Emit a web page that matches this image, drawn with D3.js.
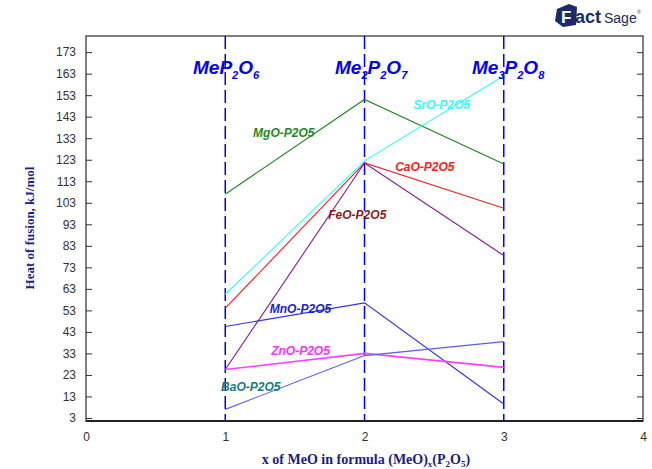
<!DOCTYPE html>
<html>
<head>
<meta charset="utf-8">
<script src="https://cdn.jsdelivr.net/npm/d3@7"></script>
<style>
  html, body { margin: 0; padding: 0; background: #fff; }
  svg { display: block; }
</style>
</head>
<body>
<svg id="chart" width="652" height="469"></svg>
<script>
// x positions of the three phosphate compositions
const xs = [1, 2, 3];

// Heat of fusion (kJ/mol) for each MeO-P2O5 system at x = 1, 2, 3
const mgo = [107, 151, 121];
const sro = [60.5, 122.5, 162];
const cao = [54, 121.5, 100.5];
const feo = [25.5, 121.5, 78.5];
const mno = [45.5, 56.5, 9.5];
const zno = [25.5, 33, 26.5];
const bao = [7, 32, 38.5];

const yTicks = [3, 13, 23, 33, 43, 53, 63, 73, 83, 93, 103, 113, 123, 133, 143, 153, 163, 173];
const xTicks = [0, 1, 2, 3, 4];

const seriesNames = ["MgO-P2O5", "SrO-P2O5", "CaO-P2O5", "FeO-P2O5", "MnO-P2O5", "ZnO-P2O5", "BaO-P2O5"];
const seriesValues = [mgo, sro, cao, feo, mno, zno, bao];
const lineColors = ["#1e8a1e", "#33ffff", "#ff2020", "#8a1a9a", "#3030f0", "#ff40ff", "#5a5aff"];
const labelColors = ["#1e8a1e", "#33ffff", "#ff2020", "#8b1a1a", "#2020e0", "#ff30ff", "#108080"];
// label anchor (x in data units, y in data units)
const labelX = [1.2, 2.35, 2.22, 1.74, 1.32, 1.33, 0.97];
const labelY = [133.5, 146.5, 118, 95.3, 52, 32.3, 15.5];

const svg = d3.select("#chart");
const L = 86, R = 643, T = 36, B = 421;

const x = d3.scaleLinear().domain([0, 4]).range([L, R]);
const y = d3.scaleLinear().domain([1.6, 180.5]).range([B, T]);

// frame
svg.append("rect")
  .attr("x", L).attr("y", T).attr("width", R - L).attr("height", B - T)
  .attr("fill", "none").attr("stroke", "#555").attr("stroke-width", 1.5);
svg.append("line")
  .attr("x1", L).attr("x2", R).attr("y1", B).attr("y2", B)
  .attr("stroke", "#222").attr("stroke-width", 2);

// left axis with inward ticks
const yAxisL = svg.append("g").attr("transform", `translate(${L},0)`)
  .call(d3.axisLeft(y).tickValues(yTicks).tickSize(-6).tickPadding(10));
yAxisL.select(".domain").remove();
yAxisL.selectAll("line").attr("stroke", "#333");
yAxisL.selectAll("text")
  .attr("font-family", "Liberation Sans, Arial, sans-serif")
  .attr("font-size", 12).attr("fill", "#333");

// right axis ticks
const yAxisR = svg.append("g").attr("transform", `translate(${R},0)`)
  .call(d3.axisRight(y).tickValues(yTicks).tickSize(-6).tickFormat(""));
yAxisR.select(".domain").remove();
yAxisR.selectAll("line").attr("stroke", "#333");

// bottom axis labels
const xAxis = svg.append("g").attr("transform", `translate(0,${B})`)
  .call(d3.axisBottom(x).tickValues(xTicks).tickSize(0).tickPadding(11).tickFormat(d3.format("d")));
xAxis.select(".domain").remove();
xAxis.selectAll("text")
  .attr("font-family", "Liberation Sans, Arial, sans-serif")
  .attr("font-size", 12).attr("fill", "#333");

// composition guide lines
svg.append("g").selectAll("line").data(xs).join("line")
  .attr("x1", d => x(d)).attr("x2", d => x(d))
  .attr("y1", T).attr("y2", B)
  .attr("stroke", "#0000ff").attr("stroke-width", 1.5)
  .attr("stroke-dasharray", "13,5");

// series lines
const line = d3.line().x((d, i) => x(xs[i])).y(d => y(d));
svg.append("g").selectAll("path").data(seriesValues).join("path")
  .attr("d", d => line(d))
  .attr("fill", "none")
  .attr("stroke", (d, i) => lineColors[i])
  .attr("stroke-width", (d, i) => i === 5 ? 1.6 : 1.1);

// series labels
svg.append("g").selectAll("text").data(seriesNames).join("text")
  .attr("x", (d, i) => x(labelX[i]))
  .attr("y", (d, i) => y(labelY[i]))
  .attr("fill", (d, i) => labelColors[i])
  .attr("font-family", "Liberation Sans, Arial, sans-serif")
  .attr("font-size", 12)
  .attr("font-weight", "bold")
  .attr("font-style", "italic")
  .text(d => d);

// composition headers: [text, subscript] pieces
const headers = [
  { x: 193, parts: [["Me", 0], ["P", 0], ["2", 1], ["O", 0], ["6", 1]] },
  { x: 335, parts: [["Me", 0], ["2", 1], ["P", 0], ["2", 1], ["O", 0], ["7", 1]] },
  { x: 472, parts: [["Me", 0], ["3", 1], ["P", 0], ["2", 1], ["O", 0], ["8", 1]] }
];
headers.forEach(h => {
  const t = svg.append("text")
    .attr("x", h.x).attr("y", 74)
    .attr("fill", "#0000ff")
    .attr("font-family", "Liberation Sans, Arial, sans-serif")
    .attr("font-weight", "bold").attr("font-style", "italic")
    .attr("font-size", 19);
  h.parts.forEach(([s, sub], i) => {
    const ts = t.append("tspan").text(s);
    if (sub) ts.attr("font-size", 11).attr("dy", 5);
    else if (i > 0 && h.parts[i - 1][1]) ts.attr("dy", -5);
  });
});

// axis titles
svg.append("text")
  .attr("transform", "translate(34,228) rotate(-90)")
  .attr("text-anchor", "middle")
  .attr("fill", "#1c1c8a")
  .attr("font-family", "Liberation Serif, Times New Roman, serif")
  .attr("font-weight", "bold").attr("font-size", 13)
  .text("Heat of fusion, kJ/mol");

const xt = svg.append("text")
  .attr("x", 366).attr("y", 464)
  .attr("text-anchor", "middle")
  .attr("fill", "#1c1c8a")
  .attr("font-family", "Liberation Serif, Times New Roman, serif")
  .attr("font-weight", "bold").attr("font-size", 14);
xt.append("tspan").text("x of MeO in formula (MeO)");
xt.append("tspan").text("x").attr("font-size", 9).attr("dy", 3);
xt.append("tspan").text("(P").attr("dy", -3);
xt.append("tspan").text("2").attr("font-size", 9).attr("dy", 3);
xt.append("tspan").text("O").attr("dy", -3);
xt.append("tspan").text("5").attr("font-size", 9).attr("dy", 3);
xt.append("tspan").text(")").attr("dy", -3);

// FactSage logo
const logo = svg.append("g").attr("transform", "translate(555,3)");
logo.append("path")
  .attr("d", "M2,6 L14,1 L22,4 L21,22 L8,24 L0,18 Z")
  .attr("fill", "#1a2a6c");
logo.append("text")
  .attr("x", 6).attr("y", 20)
  .attr("fill", "#fff")
  .attr("font-family", "Liberation Sans, Arial, sans-serif")
  .attr("font-weight", "bold").attr("font-size", 17)
  .text("F");
logo.append("text")
  .attr("x", 20).attr("y", 20)
  .attr("fill", "#1a2a6c")
  .attr("font-family", "Liberation Sans, Arial, sans-serif")
  .attr("font-weight", "bold").attr("font-size", 18)
  .text("act");
logo.append("text")
  .attr("x", 49).attr("y", 20)
  .attr("fill", "#1a2a6c")
  .attr("font-family", "Liberation Sans Narrow, Liberation Sans, Arial, sans-serif")
  .attr("font-size", 14)
  .text("Sage");
logo.append("text")
  .attr("x", 82).attr("y", 11)
  .attr("fill", "#1a2a6c")
  .attr("font-family", "Liberation Sans, Arial, sans-serif")
  .attr("font-size", 5)
  .text("®");
</script>
</body>
</html>
